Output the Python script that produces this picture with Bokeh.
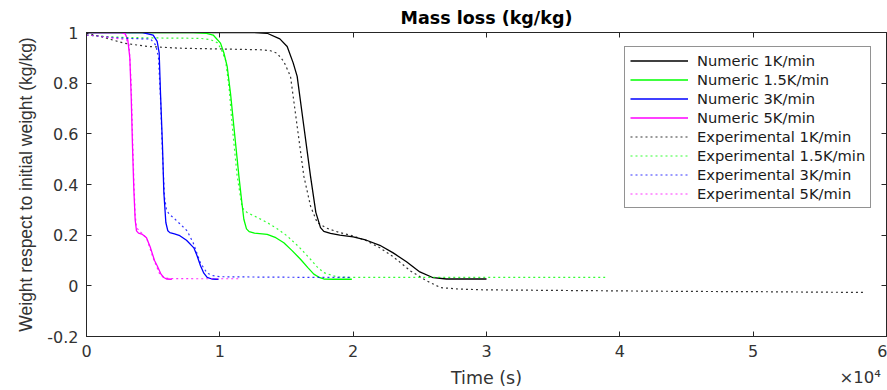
from bokeh.plotting import figure
from bokeh.models import (FixedTicker, CustomJSTickFormatter, LinearAxis, Legend,
                          LegendItem, Range1d)
from bokeh.embed import file_html
from bokeh.resources import INLINE

# ---------------- data (time in s, weight in kg/kg) ----------------
num_1k_t = [0, 10000, 12500, 13550, 14500, 15050, 15500, 15800, 16300, 16800, 17200, 17550,
            17800, 18300, 19000, 20000, 21000, 22000, 23000, 24000, 25000, 26000, 27000, 30000]
num_1k_w = [1, 1, 1, 0.997, 0.975, 0.945, 0.88, 0.827, 0.63, 0.433, 0.29, 0.23,
            0.215, 0.207, 0.2, 0.193, 0.18, 0.16, 0.13, 0.095, 0.055, 0.032, 0.027, 0.027]

exp_1k_t = [0, 1000, 2000, 2800, 4550, 7000, 10000, 13000, 13800, 14300, 14800, 15300, 15800,
            16300, 16800, 17300, 18000, 19000, 20000, 21000, 22000, 23000, 24300, 25500,
            26550, 28000, 30000, 35000, 40000, 45000, 50000, 55000, 58300]
exp_1k_w = [0.997, 0.985, 0.97, 0.958, 0.945, 0.938, 0.935, 0.932, 0.928, 0.918, 0.885, 0.827,
            0.63, 0.433, 0.315, 0.25, 0.228, 0.21, 0.197, 0.178, 0.15, 0.115, 0.059, 0.02,
            -0.007, -0.013, -0.016, -0.018, -0.02, -0.022, -0.023, -0.025, -0.026]

num_15k_t = [0, 8000, 9000, 9500, 10050, 10300, 10550, 10800, 11050, 11430, 11650, 11800, 12000,
             12200, 12600, 13550, 14200, 14800, 15400, 16050, 16600, 17050, 17500, 17800, 18500, 19900]
num_15k_w = [1, 1, 0.997, 0.99, 0.958, 0.92, 0.866, 0.76, 0.63, 0.433, 0.33, 0.263, 0.225,
             0.214, 0.208, 0.203, 0.19, 0.17, 0.14, 0.105, 0.072, 0.046, 0.032, 0.027, 0.026, 0.026]

exp_15k_t = [0, 1500, 3000, 6000, 8500, 9300, 9800, 10100, 10430, 10700, 10930, 11300, 11680,
             12050, 12800, 13550, 14300, 15050, 16000, 16800, 17300, 17800, 18800, 20000,
             25000, 30000, 35000, 38900]
exp_15k_w = [0.99, 0.984, 0.98, 0.978, 0.977, 0.972, 0.96, 0.935, 0.89, 0.78, 0.63, 0.433, 0.308,
             0.289, 0.27, 0.25, 0.225, 0.197, 0.15, 0.105, 0.075, 0.052, 0.035, 0.033,
             0.033, 0.033, 0.033, 0.033]

num_3k_t = [0, 4200, 5000, 5300, 5450, 5550, 5700, 5800, 5950, 6100, 6250, 6600, 7000, 7500,
            8050, 8300, 8550, 8800, 9050, 9400, 9800, 9900]
num_3k_w = [1, 1, 0.99, 0.965, 0.92, 0.76, 0.55, 0.37, 0.25, 0.217, 0.21, 0.205, 0.198, 0.18,
            0.15, 0.118, 0.079, 0.05, 0.033, 0.027, 0.026, 0.026]

exp_3k_t = [0, 1000, 2000, 3000, 4800, 5200, 5400, 5550, 5700, 5850, 6000, 6200, 6600, 7000,
            7550, 8000, 8550, 9050, 9500, 10000, 12000, 15000, 18000, 19800]
exp_3k_w = [0.99, 0.985, 0.98, 0.977, 0.974, 0.95, 0.9, 0.74, 0.52, 0.35, 0.3, 0.283, 0.265,
            0.245, 0.217, 0.17, 0.09, 0.05, 0.04, 0.036, 0.035, 0.034, 0.033, 0.033]

num_5k_t = [0, 2600, 2900, 3100, 3250, 3350, 3450, 3550, 3650, 3750, 3900, 4200, 4500, 4800,
            5100, 5300, 5600, 5800, 6000, 6400]
num_5k_w = [1, 1, 0.995, 0.97, 0.9, 0.75, 0.55, 0.38, 0.26, 0.217, 0.208, 0.203, 0.19, 0.15,
            0.1, 0.079, 0.045, 0.033, 0.027, 0.026]

exp_5k_t = [0, 1000, 2000, 3000, 3200, 3350, 3450, 3550, 3650, 3750, 4000, 4500, 5000, 5500,
            5800, 6200, 8000, 10000, 11500]
exp_5k_w = [0.99, 0.985, 0.978, 0.972, 0.95, 0.8, 0.6, 0.42, 0.28, 0.23, 0.215, 0.19, 0.11,
            0.045, 0.032, 0.029, 0.028, 0.028, 0.028]

series = [
    ("Numeric 1K/min", num_1k_t, num_1k_w, "#000000", None),
    ("Numeric 1.5K/min", num_15k_t, num_15k_w, "#00ff00", None),
    ("Numeric 3K/min", num_3k_t, num_3k_w, "#0000ff", None),
    ("Numeric 5K/min", num_5k_t, num_5k_w, "#ff00ff", None),
    ("Experimental 1K/min", exp_1k_t, exp_1k_w, "#000000", "2 3"),
    ("Experimental 1.5K/min", exp_15k_t, exp_15k_w, "#00ff00", "2 3"),
    ("Experimental 3K/min", exp_3k_t, exp_3k_w, "#0000ff", "2 3"),
    ("Experimental 5K/min", exp_5k_t, exp_5k_w, "#ff00ff", "2 3"),
]

x_ticks = [0, 10000, 20000, 30000, 40000, 50000, 60000]
y_ticks = [-0.2, 0, 0.2, 0.4, 0.6, 0.8, 1]

AX = "#262626"
TXT = "#333333"

p = figure(width=887, height=390, output_backend="svg", toolbar_location=None,
           x_range=Range1d(0, 60000), y_range=Range1d(-0.2, 1),
           min_border_left=86, min_border_right=1, min_border_top=31, min_border_bottom=54)
p.title.text = "Mass loss (kg/kg)"
p.title.align = "center"
p.title.text_font = "DejaVu Sans"
p.title.text_font_size = "17.5px"
p.title.text_font_style = "bold"
p.title.text_color = "#000000"
p.grid.visible = False
p.outline_line_color = AX
p.outline_line_width = 1
p.background_fill_color = "white"
p.border_fill_color = "white"

xfmt = CustomJSTickFormatter(code="return String(Math.round(tick/1e4));")
yfmt = CustomJSTickFormatter(code="return String(Math.round(tick*10)/10);")

for ax in [p.xaxis[0], p.yaxis[0]]:
    ax.axis_line_color = AX
    ax.major_tick_line_color = AX
    ax.major_tick_in = 5
    ax.major_tick_out = 0
    ax.minor_tick_line_color = None
    ax.major_label_text_font = "DejaVu Sans"
    ax.major_label_text_font_size = "16px"
    ax.major_label_text_color = TXT
    ax.axis_label_text_color = TXT
    ax.axis_label_text_font_style = "normal"

p.xaxis[0].ticker = FixedTicker(ticks=x_ticks)
p.xaxis[0].formatter = xfmt
p.xaxis[0].major_label_standoff = 8
p.xaxis[0].axis_label = "Time (s)"
p.xaxis[0].axis_label_text_font = "DejaVu Sans"
p.xaxis[0].axis_label_text_font_size = "17.5px"
p.xaxis[0].axis_label_standoff = 8

p.yaxis[0].ticker = FixedTicker(ticks=y_ticks)
p.yaxis[0].formatter = yfmt
p.yaxis[0].major_label_standoff = 8
p.yaxis[0].axis_label = "Weight respect to initial weight (kg/kg)"
p.yaxis[0].axis_label_text_font = "Liberation Sans"
p.yaxis[0].axis_label_text_font_size = "17.5px"
p.yaxis[0].axis_label_standoff = 8

top = LinearAxis(ticker=FixedTicker(ticks=x_ticks), major_label_text_font_size="0px",
                 major_tick_in=5, major_tick_out=0, major_label_standoff=0,
                 axis_line_color=AX, major_tick_line_color=AX, minor_tick_line_color=None)
right = LinearAxis(ticker=FixedTicker(ticks=y_ticks), major_label_text_font_size="0px",
                   major_tick_in=5, major_tick_out=0, major_label_standoff=0,
                   axis_line_color=AX, major_tick_line_color=AX, minor_tick_line_color=None)
p.add_layout(top, "above")
p.add_layout(right, "right")

# exponent note "×10⁴" at the right end of the time axis (the label is centred on the
# axis end, so trailing no-break spaces push the visible part left)
expo = LinearAxis(ticker=FixedTicker(ticks=[]), major_label_text_font_size="0px",
                  major_tick_in=0, major_tick_out=0, major_label_standoff=0,
                  axis_line_color=None, major_tick_line_color=None, minor_tick_line_color=None,
                  axis_label="×10⁴" + "\u00a0" * 10, axis_label_align="end",
                  axis_label_standoff=-23,
                  axis_label_text_font="DejaVu Sans", axis_label_text_font_size="16.5px",
                  axis_label_text_font_style="normal", axis_label_text_color=TXT)
p.add_layout(expo, "below")

items = []
for name, t, w, col, dash in series:
    if dash is None:
        r = p.line(t, w, line_color=col, line_width=1.3)
    else:
        r = p.line(t, w, line_color=col, line_width=1.2, line_dash=dash, line_alpha=0.8)
    items.append(LegendItem(label=name, renderers=[r]))

legend = Legend(items=items, location=(538, 128))
legend.label_text_font = "DejaVu Sans"
legend.label_text_font_size = "14.7px"
legend.label_text_color = "#1a1a1a"
legend.glyph_width = 58
legend.glyph_height = 17
legend.label_height = 17
legend.label_standoff = 9
legend.spacing = 2
legend.padding = 5
legend.margin = 0
legend.border_line_color = AX
legend.border_line_width = 1
legend.background_fill_alpha = 1
p.add_layout(legend, "center")

open("out.html", "w").write(file_html(p, INLINE))
